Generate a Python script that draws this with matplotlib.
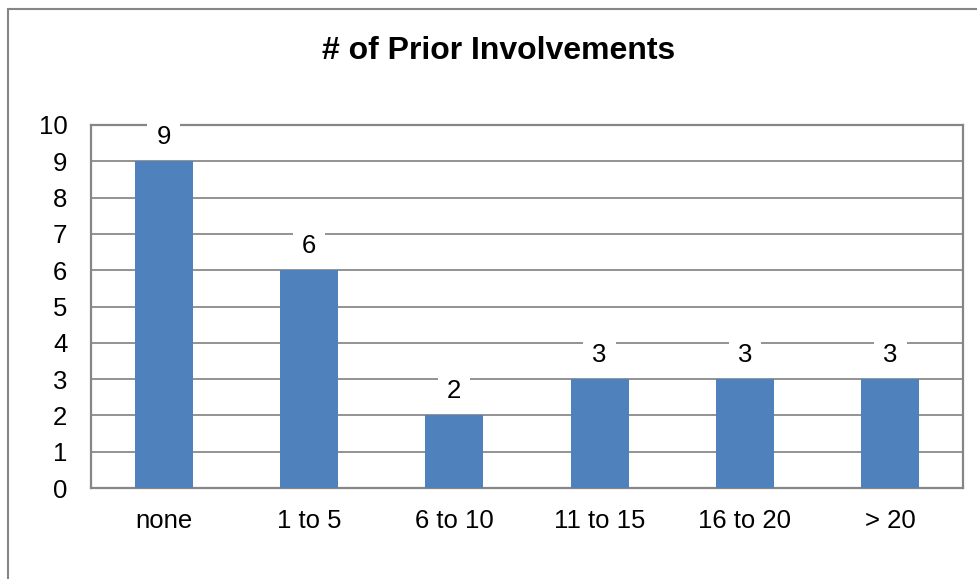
import matplotlib
matplotlib.use("Agg")
import matplotlib.pyplot as plt
from matplotlib.patches import Rectangle

categories = ["none", "1 to 5", "6 to 10", "11 to 15", "16 to 20", "> 20"]
values = [9, 6, 2, 3, 3, 3]
yticks = list(range(0, 11))

plt.rcParams['font.family'] = ['Liberation Sans', 'DejaVu Sans']

W, H = 978, 579
fig = plt.figure(figsize=(W / 100, H / 100), dpi=100)
fig.patch.set_facecolor("white")

# outer chart frame (extends past right and bottom edge)
frame = Rectangle((8 / W, -0.05), 1.2, 1 - 9 / H + 0.05, transform=fig.transFigure,
                  fill=False, edgecolor="#868686", linewidth=1.5, clip_on=False)
fig.patches.append(frame)

ax = fig.add_axes([91 / W, 1 - 488 / H, (963 - 91) / W, (488 - 125) / H])
x = list(range(len(categories)))
bars = ax.bar(x, values, width=0.4, color="#4F81BD", zorder=2)

ax.set_xlim(-0.5, len(categories) - 0.5)
ax.set_ylim(0, 10)
ax.set_yticks(yticks)
ax.set_yticklabels([str(t) for t in yticks])
ax.set_xticks(x)
ax.set_xticklabels(categories)
ax.tick_params(axis="both", length=0, labelsize=18.5, colors="black")
ax.tick_params(axis="y", pad=17)
ax.tick_params(axis="x", pad=15)

ax.grid(axis="y", color="#8a8a8a", linewidth=1.3, zorder=0)
ax.set_axisbelow(True)
for s in ax.spines.values():
    s.set_color("#868686")
    s.set_linewidth(1.6)
    s.set_zorder(1)

for xi, v in zip(x, values):
    ax.annotate(str(v), xy=(xi, v), xytext=(0, 17.5), textcoords="offset points",
                ha="center", va="center", fontsize=18.5, zorder=5, annotation_clip=False,
                bbox=dict(boxstyle="square,pad=0.35", facecolor="white", edgecolor="none"))

fig.text(499 / W, 1 - 51 / H, "# of Prior Involvements", ha="center", va="center",
         fontsize=23, fontweight="bold")

fig.savefig("out.png", dpi=100)
